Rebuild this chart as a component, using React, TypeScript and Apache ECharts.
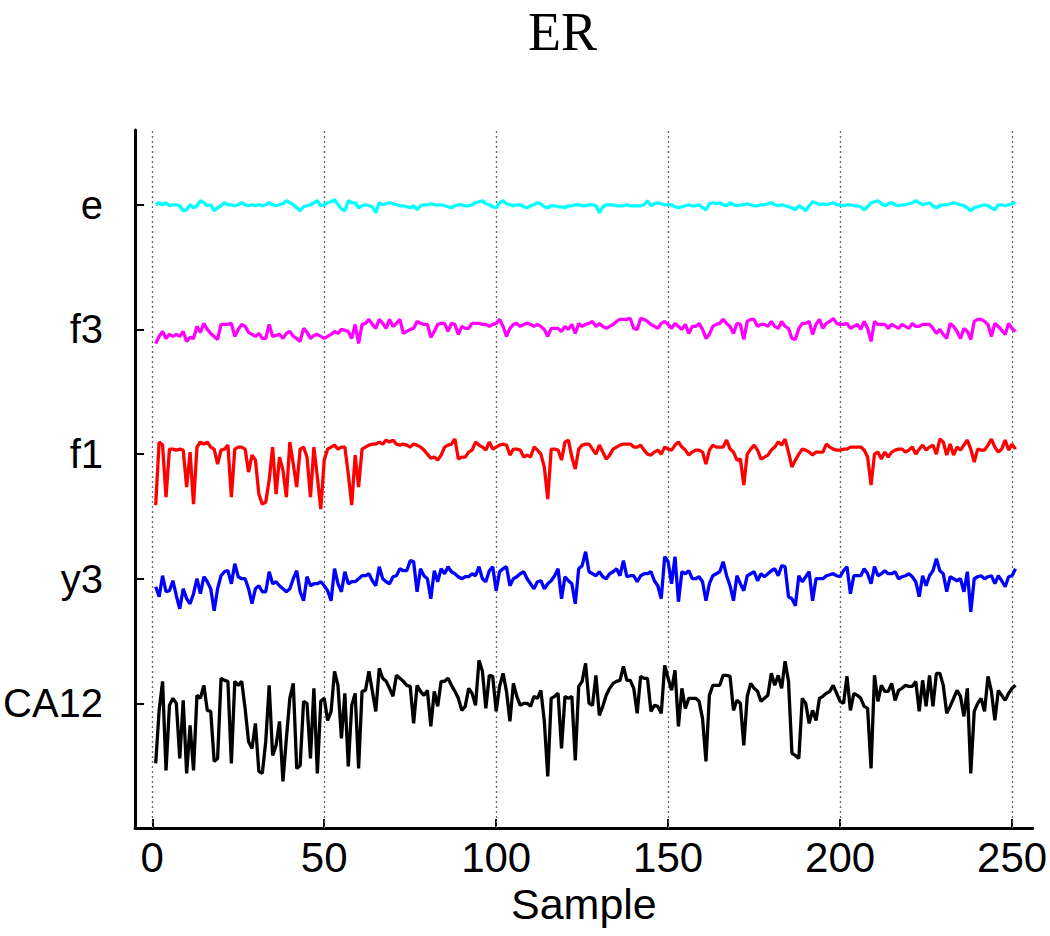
import React, { useEffect, useRef } from "react";
import * as echarts from "echarts";

// Channel names, bottom to top, and their baseline offsets on the y axis
const CHANNELS = ["CA12", "y3", "f1", "f3", "e"];
const CHANNEL_OFFSETS = [1, 2, 3, 4, 5];
const CHANNEL_COLORS = ["#000000", "#0000ff", "#ff0000", "#ff00ff", "#00ffff"];

// x tick labels
const X_TICKS = [0, 50, 100, 150, 200, 250];

// signal amplitude units per channel spacing
const AMP_PER_CHANNEL = 124.5;

// Signals (samples 1..251), amplitude units
const ca12 = [
  -60, -7, 22, -67, -2, 5, 0, -55, 3, -70,
  -22, -67, 8, 5, 18, -7, -8, -58, -55, 25,
  23, 22, -60, 22, 18, 22, -5, -38, -45, -20,
  -68, -70, -38, 18, -52, -42, -18, -78, -35, 5,
  20, -65, -62, 2, 0, -55, 15, -70, 2, 5,
  -17, -8, 32, 18, -35, 10, -63, -2, 10, -65,
  12, 13, 32, 12, -8, 35, 25, 22, 15, 7,
  28, 25, 22, 18, 17, -20, 18, 12, 8, 13,
  -23, 12, -3, 22, 22, 25, 18, 12, 5, -7,
  -3, 15, 10, -2, 43, 32, -5, 28, 27, -8,
  17, 30, 12, -18, 20, 7, -2, 0, 0, -3,
  7, 5, 13, -18, -73, 5, 7, 10, -45, 7,
  5, 7, -57, 17, 22, 40, 0, -2, 28, -12,
  -3, 8, 15, 20, 22, 23, 37, 23, 23, 15,
  -10, 27, 25, 25, -8, -2, -3, -10, 38, 25,
  13, 33, -23, 15, -5, 5, 5, 5, 2, -15,
  -58, 8, 18, 18, 18, 28, 28, 27, -7, 3,
  0, -42, 7, 20, 15, 12, 2, 5, 8, 30,
  18, 28, 15, 42, 22, -50, -52, -55, 5, 0,
  -20, -7, -17, 5, 7, 10, 12, 18, 10, 2,
  0, 27, -7, 10, 8, 5, -3, -5, -65, 28,
  2, 18, 12, 12, 20, 3, 13, 15, 18, 17,
  17, 22, -8, 23, -3, 28, -3, 30, 30, 18,
  -10, -3, 5, 13, 7, -13, 15, -70, -8, 0,
  5, -8, 27, 12, -17, 13, 8, 3, 10, 15, 18,
];

const y3 = [
  -8, -18, 3, -13, -12, -2, -17, -30, -10, -20,
  -25, -15, 0, -15, 2, -3, -10, -32, -10, 3,
  7, 8, -5, 15, 2, 0, 0, -10, -25, -10,
  -7, -13, -13, 7, -5, -3, -7, -10, -13, -10,
  0, 8, -13, -22, 2, -7, -5, -5, -3, -7,
  -12, -22, 10, -5, -13, 7, -5, -3, -3, 0,
  3, 3, 5, -2, -7, 12, 0, -3, -5, 2,
  3, 10, 8, 8, 18, 17, -13, 10, 3, 0,
  -20, 8, -3, 10, 5, 12, 7, 5, 2, 0,
  2, 2, 5, 3, 12, 0, -3, 8, 12, -12,
  7, 10, 12, -7, 0, 2, 5, 7, 0, -5,
  -10, -3, -2, -10, -5, -2, 3, 10, -20, 2,
  -2, -5, -25, 10, 13, 27, 7, 5, 3, 7,
  2, 0, 5, 7, 10, 3, 18, 2, 3, 3,
  -3, 3, 5, 5, 7, -2, -7, -20, 22, 17,
  -5, 22, -23, 7, 5, 8, 0, 0, 2, -3,
  -22, -5, 3, 5, 7, 17, 3, -7, -22, 3,
  -5, -12, 3, 5, 7, -2, 5, 2, 5, 8,
  10, 3, 13, 12, -18, -20, -27, 3, -3, 2,
  7, -22, 0, 0, 0, 3, 4, 5, 3, 2,
  8, 12, -15, 3, 3, 3, 10, 5, -5, 12,
  3, 5, 8, 5, 5, 7, 0, 2, 3, 5,
  2, -3, -18, 3, -7, 3, 8, 20, 8, 5,
  -13, 2, 0, -2, 0, -13, 7, -33, 0, 2,
  3, 0, 2, 3, -5, 3, -2, -8, 2, 3, 10,
];

const f1 = [
  -51, 12, 9, -43, 5, 5, 4, 5, 4, -33,
  2, -50, 7, 12, 10, 12, 7, 5, -10, 4,
  5, 9, -43, 5, 7, 7, 5, -18, -1, -6,
  -40, -50, -48, -26, 7, -40, -3, -16, -43, 12,
  -10, -33, 5, 7, -3, -43, 7, -23, -55, -6,
  5, 7, 9, 5, 7, 7, -20, -51, -1, -33,
  5, 7, 9, 10, 10, 12, 10, 14, 12, 14,
  10, 9, 10, 9, 7, 10, 9, 7, 4, 0,
  -4, -3, -6, -1, 7, 9, 10, 15, -5, -3,
  -3, 2, 4, 12, 9, 7, 4, 12, 5, 7,
  9, 10, 9, -1, 5, 5, 4, -3, -1, -3,
  7, 4, 0, -13, -45, 5, 5, 4, -6, 12,
  14, -3, -15, 5, 9, 10, 10, 5, 0, 9,
  2, -5, -1, 5, 7, 9, 10, 10, 10, 7,
  7, 9, 4, 0, -1, 2, 4, 0, 7, 5,
  4, 9, 12, 7, 4, -1, 2, 4, 4, 2,
  -10, 4, 9, 7, 7, 7, 14, 5, 2, -6,
  -5, -31, 0, 5, 9, 4, -5, -3, -1, 4,
  7, 12, 9, 15, 2, -13, -6, 0, 5, 4,
  2, -1, 2, 2, 2, 10, 7, 5, 4, 4,
  5, 5, 7, 7, 7, 7, 4, -3, -31, 0,
  2, -5, 2, -3, 2, 4, 5, 5, 2, 4,
  7, 0, 5, 9, 4, 7, 9, 0, 15, 12,
  -1, 10, -1, 7, 4, 9, 14, 5, -8, 5,
  4, 4, 9, 15, 7, 2, 5, 14, 4, 10, 5,
];

const f3 = [
  -14, -7, -2, -9, -5, -7, -5, -7, -2, -12,
  -8, -9, 3, -3, 6, 0, -4, -7, -10, 5,
  5, 5, 6, -7, 0, 5, 3, -3, -5, -7,
  -4, -9, -9, 5, -7, -6, -5, -9, -4, -2,
  -7, -9, -12, 1, -3, -9, -6, -5, -7, -9,
  -7, -5, -2, -4, 0, -1, -2, -9, 5, -14,
  5, 6, 10, 5, 1, 10, 6, 1, 10, 3,
  6, 10, -4, -2, 0, 1, 8, 6, 5, 5,
  -8, -2, 5, 6, 6, -2, 6, 5, -5, 3,
  1, 1, 6, 6, 6, 5, 5, 3, 5, 6,
  10, 3, -7, 1, 5, 6, 3, 5, 6, 5,
  3, 5, 3, 0, -7, 1, 1, 1, -2, 3,
  0, 5, -4, 6, 3, 5, 6, 8, 3, 6,
  3, 1, 3, 5, 8, 10, 10, 10, 11, 1,
  0, 11, 10, 8, 5, 3, 1, 6, 8, 5,
  1, 6, 3, 0, 5, -4, 3, 3, 6, 0,
  -9, -5, 3, 5, 6, 10, 6, 3, -4, 6,
  5, -10, 8, 10, 10, 3, 5, 5, 3, 8,
  3, 1, 8, 3, 1, -9, -10, 1, 6, 6,
  8, -5, 5, 10, 1, 6, 8, 11, 6, 5,
  5, 6, 1, 3, 5, 0, 8, 1, -12, 8,
  5, 5, 5, 1, 5, 3, 1, 5, 3, 1,
  6, 3, 3, 5, 5, 5, 1, -4, 0, -5,
  -9, 6, 3, -2, -9, 1, -2, -10, 8, 10,
  10, 8, 5, -7, 6, 3, -1, -5, 6, 1, -2,
];

const e = [
  0, 2, 0, 2, -1, 0, 0, -1, -6, -5,
  0, -3, -1, 4, 2, -1, 0, -6, -3, -1,
  2, 0, 0, -1, 0, 2, 0, -1, 0, -1,
  0, -1, 0, 2, 0, -1, 0, 1, 4, 2,
  0, -3, -6, -2, -1, 0, 2, 4, -1, 0,
  2, 3, 5, 0, -4, -6, 4, 2, 2, -3,
  -1, 0, -1, -2, -8, 2, 0, 1, 2, 1,
  0, -1, -1, -2, -3, -1, -5, -1, 0, 0,
  1, 0, 0, 0, -1, -2, -3, -1, 0, 0,
  -1, -1, 0, 2, 3, 4, 1, 0, -2, -3,
  2, 4, 1, 0, -1, 0, 0, -2, -3, -1,
  0, 2, 1, -2, -3, -1, -1, -2, -2, -3,
  -1, -1, 0, 0, -1, -1, 0, 0, -1, -8,
  -2, 0, 0, 0, -1, -1, -1, 0, -1, -1,
  -1, -1, 0, 4, -1, 1, 2, 1, 0, 0,
  0, -2, -3, -2, -1, 0, -1, -1, 0, -3,
  -5, 1, 2, 1, 2, 0, -1, 2, 0, -1,
  0, 0, 1, 0, -1, -1, 0, 0, 1, 2,
  0, -1, 0, -1, -2, -3, -5, -1, -3, -6,
  -1, 3, 2, 0, 1, 0, 1, 2, 0, 0,
  -1, 0, 0, -1, -1, -2, -5, -2, 2, 3,
  4, 1, -1, 1, 2, 0, -1, 0, 0, 1,
  2, 4, 2, 0, 1, 2, -1, -3, -1, 0,
  0, 1, 2, 1, 0, -1, -3, -6, -3, -2,
  -1, 0, -1, -3, -5, 0, 0, -1, 0, 1, 2,
];

const SIGNALS = [ca12, y3, f1, f3, e];

const FONT = "'Liberation Sans', Arial, sans-serif";

export default function App() {
  const ref = useRef<HTMLDivElement>(null);

  useEffect(() => {
    document.body.style.margin = "0";
    if (!ref.current) return;
    const chart = echarts.init(ref.current, null, { renderer: "svg" });

    const labelMap: Record<number, string> = {};
    CHANNEL_OFFSETS.forEach((o, k) => (labelMap[o] = CHANNELS[k]));

    const series: any[] = SIGNALS.map((sig, k) => ({
      type: "line",
      name: CHANNELS[k],
      data: sig.map((v, i) => [i + 1, CHANNEL_OFFSETS[k] + v / AMP_PER_CHANNEL]),
      showSymbol: false,
      symbol: "none",
      lineStyle: { color: CHANNEL_COLORS[k], width: 3.3 },
      itemStyle: { color: CHANNEL_COLORS[k] },
      z: 3,
    }));
    // dotted vertical grid lines
    series[0].markLine = {
      silent: true,
      symbol: ["none", "none"],
      label: { show: false },
      lineStyle: { type: [2, 3], color: "#666666", width: 1.3 },
      data: X_TICKS.map((x) => ({ xAxis: x })),
      z: 1,
    };

    chart.setOption({
      animation: false,
      backgroundColor: "#ffffff",
      title: {
        text: "ER",
        left: 528,
        top: 5,
        padding: 0,
        textStyle: {
          fontFamily: "'Liberation Serif', 'Times New Roman', serif",
          fontSize: 54,
          fontWeight: "normal",
          color: "#000",
        },
      },
      grid: { left: 131, right: 17, top: 130, bottom: 108, containLabel: false },
      xAxis: {
        type: "value",
        min: -5,
        max: 256,
        name: "Sample",
        nameLocation: "middle",
        nameGap: 36,
        nameTextStyle: { fontFamily: FONT, fontSize: 43, color: "#000" },
        axisLine: { show: true, onZero: false, lineStyle: { color: "#000", width: 3 } },
        axisTick: {
          show: true,
          inside: true,
          length: 9,
          customValues: X_TICKS,
          lineStyle: { color: "#000", width: 2 },
        },
        axisLabel: {
          customValues: X_TICKS,
          fontFamily: FONT,
          fontSize: 42,
          color: "#000",
          margin: 8,
        },
        splitLine: { show: false },
      },
      yAxis: {
        type: "value",
        min: 0,
        max: 5.6,
        axisLine: { show: true, onZero: false, lineStyle: { color: "#000", width: 3 } },
        axisTick: {
          show: true,
          inside: true,
          length: 9,
          customValues: CHANNEL_OFFSETS,
          lineStyle: { color: "#000", width: 2 },
        },
        axisLabel: {
          customValues: CHANNEL_OFFSETS,
          fontFamily: FONT,
          fontSize: 40,
          color: "#000",
          margin: 32,
          formatter: (v: number) => labelMap[Math.round(v)] ?? "",
        },
        splitLine: { show: false },
      },
      series,
    });

    return () => chart.dispose();
  }, []);

  return <div ref={ref} style={{ width: 1050, height: 936 }} />;
}
